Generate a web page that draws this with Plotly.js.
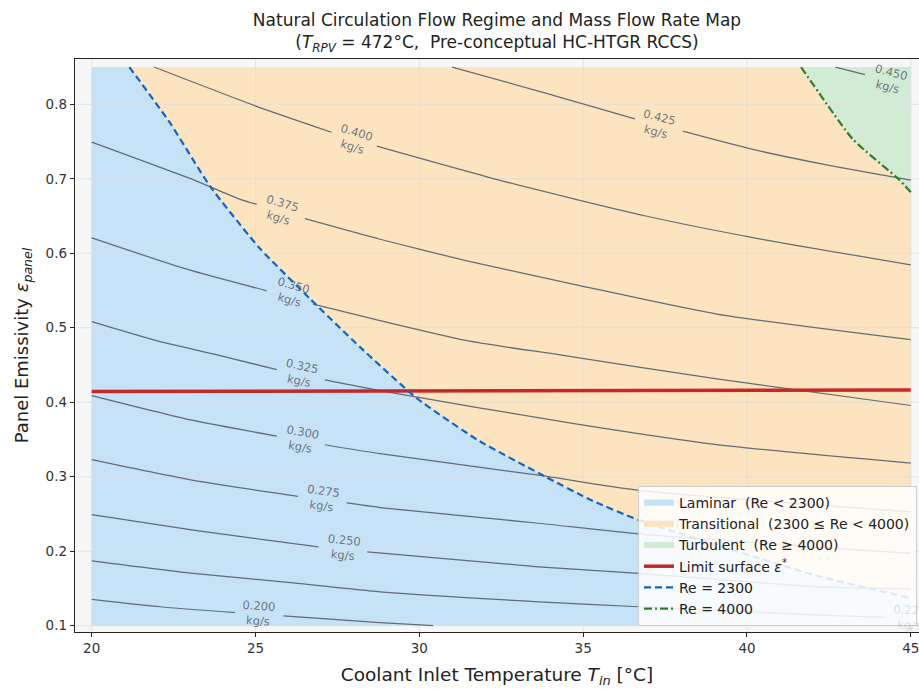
<!DOCTYPE html>
<html>
<head>
<meta charset="utf-8">
<script src="https://cdn.plot.ly/plotly-3.0.1.min.js"></script>
<style>html,body{margin:0;padding:0;background:#fff;}#chart{width:919px;height:689px;}</style>
</head>
<body>
<div id="chart"></div>
<script>
// ---------------- data ----------------
const T_DOMAIN = [20, 45];          // coolant inlet temperature span of the map
const EPS_DOMAIN = [0.1, 0.85];     // panel emissivity span of the map
const X_RANGE = [19.49, 45.25];
const Y_RANGE = [0.0915, 0.8608];
const xTicks = [20, 25, 30, 35, 40, 45];
const yTicks = [0.1, 0.2, 0.3, 0.4, 0.5, 0.6, 0.7, 0.8];

// Re = 2300 boundary
const re2300_T = [21.15, 22.39, 23.61, 25.14, 26.66, 28.19, 29.93, 31.79, 33.85, 35.27, 36.69, 42.22, 44.97, 45.0];
const re2300_E = [0.850, 0.775, 0.690, 0.606, 0.539, 0.474, 0.405, 0.349, 0.300, 0.268, 0.242, 0.166, 0.137, 0.136];
// Re = 4000 boundary
const re4000_T = [41.65, 43.23, 44.64, 45.0];
const re4000_E = [0.850, 0.753, 0.699, 0.682];
// limit surface eps*
const limit_T = [20, 45];
const limit_E = [0.4143, 0.4165];

// mass-flow-rate contour lines (null = label gap)
const m200_T = [20, 22.09, 24.37, null, 25.85, 28.80, 30.42];
const m200_E = [0.1354, 0.1254, 0.1174, null, 0.1130, 0.1040, 0.1000];
const m225_T = [20, 23.10, 26.15, 28.80, 33.64, 36.69, 42.22, 44.20];
const m225_E = [0.1870, 0.1702, 0.1576, 0.1455, 0.1321, 0.1254, 0.1143, 0.1112];
const m250_T = [20, 23.10, 26.92, null, 28.41, 33.64, 36.69, 42.22, 45];
const m250_E = [0.2492, 0.2282, 0.2058, null, 0.1991, 0.1790, 0.1702, 0.1522, 0.1495];
const m275_T = [20, 23.10, 26.30, null, 27.78, 28.80, 33.64, 36.69, 45];
const m275_E = [0.3229, 0.2951, 0.2737, null, 0.2647, 0.2586, 0.2375, 0.2232, 0.1970];
const m300_T = [20, 23.10, 25.65, null, 27.12, 28.80, 33.64, 36.69, 45];
const m300_E = [0.4090, 0.3755, 0.3545, null, 0.3429, 0.3309, 0.3020, 0.2817, 0.2527];
const m325_T = [20, 21.98, 23.92, 25.65, null, 27.12, 28.80, 34.72, 39.08, 45];
const m325_E = [0.5081, 0.4826, 0.4625, 0.4438, null, 0.4300, 0.4157, 0.3711, 0.3430, 0.3183];
const m350_T = [20, 22.90, 25.34, null, 26.76, 28.80, 31.45, 34.29, 39.08, 45];
const m350_E = [0.6206, 0.5786, 0.5496, null, 0.5318, 0.5094, 0.4826, 0.4635, 0.4313, 0.3956];
const m375_T = [20, 23.20, 24.53, 25.04, null, 26.51, 28.80, 31.45, 34.93, 39.08, 45];
const m375_E = [0.7491, 0.6969, 0.6724, 0.6657, null, 0.6464, 0.6188, 0.5898, 0.5563, 0.5184, 0.4840];
const m400_T = [21.90, 25.03, 27.32, null, 28.70, 32.55, 36.91, 40.18, 45];
const m400_E = [0.850, 0.7973, 0.7625, null, 0.7438, 0.6969, 0.6500, 0.6210, 0.5844];
const m425_T = [31.0, 33.85, 36.58, null, 38.04, 40.18, 42.35, 45];
const m425_E = [0.850, 0.815, 0.7803, null, 0.7639, 0.7394, 0.7193, 0.6982];
const m450_T = [42.70, 43.60];
const m450_E = [0.850, 0.8398];

// contour label values and centres
const labelText = ['0.200', '0.225', '0.250', '0.275', '0.300', '0.325', '0.350', '0.375', '0.400', '0.425', '0.450'];
const labelT = [25.10, 44.95, 27.67, 27.04, 26.40, 26.38, 26.09, 25.76, 28.01, 37.28, 44.34];
const labelE = [0.117, 0.1105, 0.2045, 0.2706, 0.3496, 0.438, 0.5469, 0.6577, 0.7527, 0.7723, 0.8335];

// ---------------- build ----------------
const contours = [
  [m200_T, m200_E], [m225_T, m225_E], [m250_T, m250_E], [m275_T, m275_E],
  [m300_T, m300_E], [m325_T, m325_E], [m350_T, m350_E], [m375_T, m375_E],
  [m400_T, m400_E], [m425_T, m425_E], [m450_T, m450_E]
];

const W = 919, H = 689;
const M = {l: 75, r: 0, t: 59, b: 57};
const sx = (W - M.l - M.r) / (X_RANGE[1] - X_RANGE[0]);
const sy = (H - M.t - M.b) / (Y_RANGE[1] - Y_RANGE[0]);

const C_LAM = '#c6e2f7', C_TRA = '#fde4c1', C_TUR = '#d2ebd4';

const traces = [];
// laminar region
traces.push({
  x: [T_DOMAIN[0], T_DOMAIN[0]].concat(re2300_T, [T_DOMAIN[1], T_DOMAIN[0]]),
  y: [EPS_DOMAIN[0], EPS_DOMAIN[1]].concat(re2300_E, [EPS_DOMAIN[0], EPS_DOMAIN[0]]),
  mode: 'none', fill: 'toself', fillcolor: C_LAM, name: 'Laminar\u00a0 (Re < 2300)',
  hoverinfo: 'skip', legendrank: 1
});
// transitional region
traces.push({
  x: re2300_T.concat(re4000_T.slice().reverse()),
  y: re2300_E.concat(re4000_E.slice().reverse()),
  mode: 'none', fill: 'toself', fillcolor: C_TRA, name: 'Transitional\u00a0 (2300 ≤ Re < 4000)',
  hoverinfo: 'skip', legendrank: 2
});
// turbulent region
traces.push({
  x: re4000_T.concat([T_DOMAIN[1], re4000_T[0]]),
  y: re4000_E.concat([EPS_DOMAIN[1], re4000_E[0]]),
  mode: 'none', fill: 'toself', fillcolor: C_TUR, name: 'Turbulent\u00a0 (Re ≥ 4000)',
  hoverinfo: 'skip', legendrank: 3
});
// grid on top of fills
const gx = [], gy = [];
xTicks.forEach(v => { gx.push(v, v, null); gy.push(Y_RANGE[0], Y_RANGE[1], null); });
yTicks.forEach(v => { gx.push(X_RANGE[0], X_RANGE[1], null); gy.push(v, v, null); });
traces.push({x: gx, y: gy, mode: 'lines', line: {color: 'rgba(222,222,222,0.75)', width: 1},
  showlegend: false, hoverinfo: 'skip', cliponaxis: true});

// contour lines
contours.forEach(c => {
  traces.push({x: c[0], y: c[1], mode: 'lines', connectgaps: false,
    line: {color: 'rgba(85,95,105,0.9)', width: 1.25, shape: 'spline', smoothing: 0.6},
    showlegend: false, hoverinfo: 'skip'});
});

// limit surface
traces.push({x: limit_T, y: limit_E, mode: 'lines', name: 'Limit surface <i>ε</i><sup>*</sup>',
  line: {color: '#c62828', width: 3.5}, legendrank: 4, hoverinfo: 'skip'});
// Re = 2300
traces.push({x: re2300_T, y: re2300_E, mode: 'lines', name: 'Re = 2300',
  line: {color: '#1565c0', width: 2.2, dash: '7px,4px', shape: 'spline', smoothing: 0.5}, legendrank: 5, hoverinfo: 'skip'});
// Re = 4000
traces.push({x: re4000_T, y: re4000_E, mode: 'lines', name: 'Re = 4000',
  line: {color: '#2e7d32', width: 2.2, dash: '8px,3px,2px,3px', shape: 'spline', smoothing: 0.5}, legendrank: 6, hoverinfo: 'skip'});

// contour labels, rotated along the line around the label gap
const annotations = labelText.map((txt, i) => {
  const c = contours[i];
  const xs = c[0], ys = c[1];
  let k = xs.indexOf(null);
  let a, b;
  if (k > 0) { a = k - 1; b = k + 1; } else { a = xs.length - 2; b = xs.length - 1; }
  const ang = Math.atan2((ys[a] - ys[b]) * sy, (xs[b] - xs[a]) * sx) * 180 / Math.PI;
  // a label lying under the legend box is seen only faintly through it
  const underLegend = labelT[i] > 37 && labelE[i] < 0.3;
  return {
    x: labelT[i], y: labelE[i], xref: 'x', yref: 'y', showarrow: false,
    text: txt + '<br>kg/s', textangle: ang,
    font: {family: 'DejaVu Sans', size: 11.5,
      color: underLegend ? 'rgba(95,105,115,0.22)' : 'rgba(95,105,115,0.9)'}
  };
});

const axisCommon = {
  showline: true, mirror: true, linecolor: '#262626', linewidth: 1.2,
  ticks: 'outside', ticklen: 4, tickwidth: 1, tickcolor: '#262626',
  showgrid: false, zeroline: false, ticklabeloverflow: 'allow',
  tickfont: {family: 'DejaVu Sans', size: 13.5, color: '#333'}
};

const layout = {
  width: W, height: H,
  margin: M,
  paper_bgcolor: '#ffffff',
  plot_bgcolor: '#f7f7f7',
  font: {family: 'DejaVu Sans', color: '#222'},
  title: {
    text: 'Natural Circulation Flow Regime and Mass Flow Rate Map<br>(<i>T</i><sub><i>RPV</i></sub> = 472°C,\u00a0 Pre-conceptual HC-HTGR RCCS)',
    x: 0.5, xref: 'paper', xanchor: 'center',
    y: 1 - 26 / H, yref: 'container', yanchor: 'top',
    font: {family: 'DejaVu Sans', size: 17, color: '#222'}
  },
  xaxis: Object.assign({}, axisCommon, {
    range: X_RANGE, tickvals: xTicks, ticktext: xTicks.map(String),
    title: {text: 'Coolant Inlet Temperature <i>T</i><sub><i>in</i></sub> [°C]', standoff: 12,
      font: {family: 'DejaVu Sans', size: 18.5, color: '#222'}}
  }),
  yaxis: Object.assign({}, axisCommon, {
    range: Y_RANGE, tickvals: yTicks, ticktext: yTicks.map(v => v.toFixed(1)),
    title: {text: 'Panel Emissivity <i>ε</i><sub><i>panel</i></sub>', standoff: 12,
      font: {family: 'DejaVu Sans', size: 18, color: '#222'}}
  }),
  legend: {
    x: (638 - M.l) / (W - M.l - M.r), y: (H - M.b - 626) / (H - M.t - M.b),
    xanchor: 'left', yanchor: 'bottom',
    bgcolor: 'rgba(255,255,255,0.85)', bordercolor: '#cccccc', borderwidth: 1,
    font: {family: 'DejaVu Sans', size: 14, color: '#222'},
    tracegroupgap: 0
  },
  annotations: annotations,
  showlegend: true
};

Plotly.newPlot('chart', traces, layout, {staticPlot: true, displayModeBar: false});
</script>
</body>
</html>
